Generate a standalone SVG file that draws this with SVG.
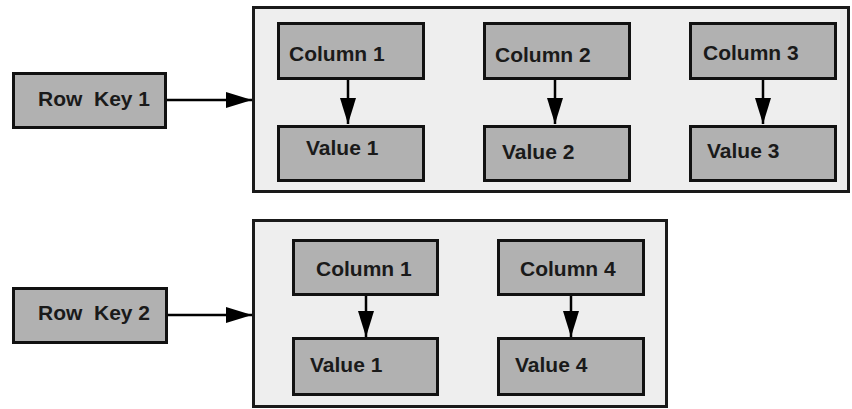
<svg xmlns="http://www.w3.org/2000/svg" width="852" height="409" viewBox="0 0 852 409">
  <defs>
    <style>
      .container { fill: #eeeeee; stroke: #1a1a1a; stroke-width: 3; }
      .box { fill: #b1b1b1; stroke: #111111; stroke-width: 3; }
      .label { font-family: "Liberation Sans", Arial, sans-serif; font-size: 21px; font-weight: bold; fill: #1a1a1a; white-space: pre; }
      .conn { stroke: #000000; stroke-width: 2.5; fill: none; }
    </style>
    <marker id="arrow" viewBox="0 0 26 18" refX="26" refY="9" markerWidth="26" markerHeight="18" markerUnits="userSpaceOnUse" orient="auto">
      <polygon points="0,1 26,9 0,17" fill="#000000"/>
    </marker>
  </defs>
  <rect x="0" y="0" width="852" height="409" fill="#ffffff"/>

  <g id="row1-container">
    <rect class="container" x="253.5" y="7.5" width="595" height="184"/>
  </g>
  <g id="row2-container">
    <rect class="container" x="253.5" y="220.5" width="413" height="186"/>
  </g>

  <g id="rowkey1">
    <rect class="box" x="13.5" y="73.5" width="152" height="54"/>
    <text class="label" x="38" y="106" xml:space="preserve">Row  Key 1</text>
  </g>
  <g id="r1-column1">
    <rect class="box" x="278.5" y="23.5" width="145" height="55"/>
    <text class="label" x="289" y="61">Column 1</text>
  </g>
  <g id="r1-value1">
    <rect class="box" x="278.5" y="126.5" width="145" height="54"/>
    <text class="label" x="306" y="155">Value 1</text>
  </g>
  <g id="r1-column2">
    <rect class="box" x="484.5" y="23.5" width="145" height="55"/>
    <text class="label" x="495" y="62">Column 2</text>
  </g>
  <g id="r1-value2">
    <rect class="box" x="484.5" y="126.5" width="145" height="54"/>
    <text class="label" x="502" y="159">Value 2</text>
  </g>
  <g id="r1-column3">
    <rect class="box" x="690.5" y="23.5" width="145" height="55"/>
    <text class="label" x="703" y="60">Column 3</text>
  </g>
  <g id="r1-value3">
    <rect class="box" x="690.5" y="126.5" width="145" height="54"/>
    <text class="label" x="707" y="158">Value 3</text>
  </g>

  <g id="rowkey2">
    <rect class="box" x="13.5" y="288.5" width="153" height="54"/>
    <text class="label" x="38" y="320" xml:space="preserve">Row  Key 2</text>
  </g>
  <g id="r2-column1">
    <rect class="box" x="293.5" y="240.5" width="144" height="54"/>
    <text class="label" x="316" y="276">Column 1</text>
  </g>
  <g id="r2-value1">
    <rect class="box" x="293.5" y="338.5" width="144" height="56"/>
    <text class="label" x="310" y="372">Value 1</text>
  </g>
  <g id="r2-column4">
    <rect class="box" x="498.5" y="240.5" width="145" height="54"/>
    <text class="label" x="520" y="276">Column 4</text>
  </g>
  <g id="r2-value4">
    <rect class="box" x="498.5" y="338.5" width="145" height="56"/>
    <text class="label" x="515" y="372">Value 4</text>
  </g>

  <g id="connectors">
    <line class="conn" x1="167" y1="100" x2="252" y2="100" marker-end="url(#arrow)"/>
    <line class="conn" x1="168" y1="315" x2="252" y2="315" marker-end="url(#arrow)"/>
    <line class="conn" x1="348" y1="80" x2="348" y2="124" marker-end="url(#arrow)"/>
    <line class="conn" x1="555" y1="80" x2="555" y2="124" marker-end="url(#arrow)"/>
    <line class="conn" x1="763" y1="80" x2="763" y2="124" marker-end="url(#arrow)"/>
    <line class="conn" x1="366" y1="296" x2="366" y2="337" marker-end="url(#arrow)"/>
    <line class="conn" x1="571" y1="296" x2="571" y2="337" marker-end="url(#arrow)"/>
  </g>
</svg>
